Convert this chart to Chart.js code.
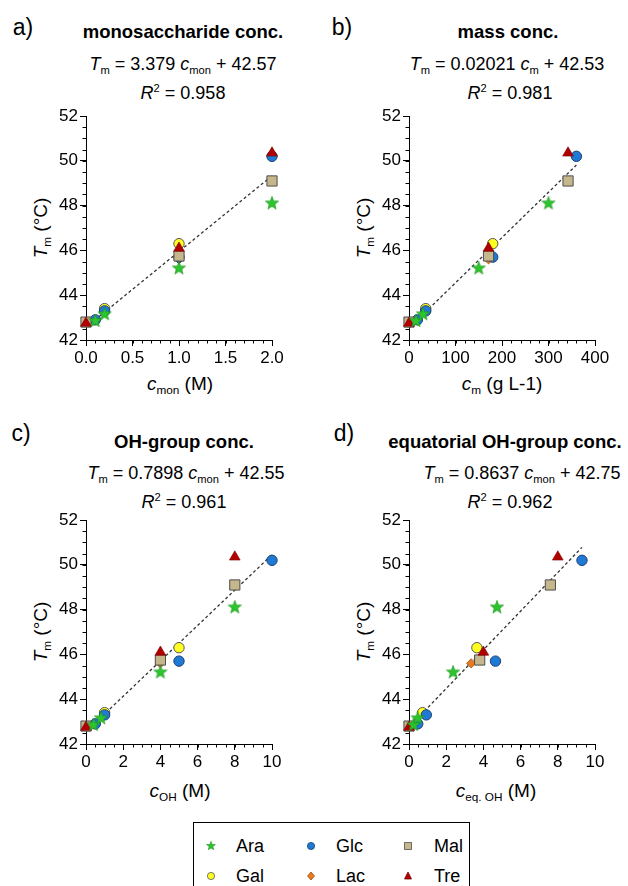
<!DOCTYPE html>
<html>
<head>
<meta charset="utf-8">
<script src="https://cdn.jsdelivr.net/npm/chart.js@4.4.0/dist/chart.umd.min.js"></script>
<style>
  body { margin: 0; width: 628px; height: 886px; background: #fff; position: relative; overflow: hidden;
         font-family: "Liberation Sans", Arial, sans-serif; color: #000; }
  canvas.cv { position: absolute; }
  .t { position: absolute; white-space: nowrap; transform: translate(-50%, -50%); line-height: 1; }
  .lab { font-size: 23px; }
  .ttl { font-size: 18.5px; font-weight: bold; }
  .eq { font-size: 18px; }
  .ax { font-size: 19px; }
  .rot { transform: translate(-50%, -50%) rotate(-90deg); }
  sub { font-size: 62%; vertical-align: -0.35em; line-height: 0; }
  sup { font-size: 62%; vertical-align: 0.6em; line-height: 0; }
  #legend { position: absolute; left: 193px; top: 822px; width: 275px; height: 70px; border: 1.5px solid #000; }
  .li { position: absolute; font-size: 18px; transform: translateY(-50%); line-height: 1; }
  .lm { position: absolute; }
</style>
</head>
<body>

<!-- panel a -->
<div class="t lab" style="left:23px;top:27px">a)</div>
<div class="t ttl" style="left:183px;top:32px">monosaccharide conc.</div>
<div class="t eq" style="left:183px;top:64px"><i>T</i><sub>m</sub> = 3.379 <i>c</i><sub>mon</sub> + 42.57</div>
<div class="t eq" style="left:183px;top:93px"><i>R</i><sup>2</sup> = 0.958</div>
<div class="t ax rot" style="left:40px;top:228px"><i>T</i><sub>m</sub> (°C)</div>
<div class="t ax" style="left:180px;top:383px"><i>c</i><sub>mon</sub> (M)</div>

<!-- panel b -->
<div class="t lab" style="left:342px;top:27px">b)</div>
<div class="t ttl" style="left:508px;top:32px">mass conc.</div>
<div class="t eq" style="left:507px;top:64px"><i>T</i><sub>m</sub> = 0.02021 <i>c</i><sub>m</sub> + 42.53</div>
<div class="t eq" style="left:510px;top:93px"><i>R</i><sup>2</sup> = 0.981</div>
<div class="t ax rot" style="left:363px;top:228px"><i>T</i><sub>m</sub> (°C)</div>
<div class="t ax" style="left:502px;top:383px"><i>c</i><sub>m</sub> (g L-1)</div>

<!-- panel c -->
<div class="t lab" style="left:21px;top:433px">c)</div>
<div class="t ttl" style="left:184px;top:442px">OH-group conc.</div>
<div class="t eq" style="left:186px;top:473px"><i>T</i><sub>m</sub> = 0.7898 <i>c</i><sub>mon</sub> + 42.55</div>
<div class="t eq" style="left:184px;top:502px"><i>R</i><sup>2</sup> = 0.961</div>
<div class="t ax rot" style="left:40px;top:632px"><i>T</i><sub>m</sub> (°C)</div>
<div class="t ax" style="left:180px;top:790px"><i>c</i><sub>OH</sub> (M)</div>

<!-- panel d -->
<div class="t lab" style="left:344px;top:433px">d)</div>
<div class="t ttl" style="left:505px;top:442px">equatorial OH-group conc.</div>
<div class="t eq" style="left:522px;top:473px"><i>T</i><sub>m</sub> = 0.8637 <i>c</i><sub>mon</sub> + 42.75</div>
<div class="t eq" style="left:510px;top:502px"><i>R</i><sup>2</sup> = 0.962</div>
<div class="t ax rot" style="left:363px;top:632px"><i>T</i><sub>m</sub> (°C)</div>
<div class="t ax" style="left:496px;top:790px"><i>c</i><sub>eq. OH</sub> (M)</div>

<canvas class="cv" id="chartA" width="314" height="300" style="left:0;top:100px"></canvas>
<canvas class="cv" id="chartB" width="314" height="300" style="left:314px;top:100px"></canvas>
<canvas class="cv" id="chartC" width="314" height="300" style="left:0;top:504px"></canvas>
<canvas class="cv" id="chartD" width="314" height="300" style="left:314px;top:504px"></canvas>

<div id="legend"></div>

<script>
// ---- data: melting temperature per sugar and the four concentration scales ----
const araTm   = [42.85, 43.15, 45.2, 48.1];
const araMon  = [0.1, 0.2, 1.0, 2.0];
const araMass = [15, 30, 150, 300];
const araOH   = [0.4, 0.8, 4, 8];
const araEq   = [0.24, 0.47, 2.37, 4.73];

const glcTm   = [42.9, 43.3, 45.7, 50.2];
const glcMon  = [0.1, 0.2, 1.0, 2.0];
const glcMass = [18, 36, 180, 360];
const glcOH   = [0.5, 1, 5, 10];
const glcEq   = [0.47, 0.93, 4.65, 9.3];

const galTm   = [43.4, 46.3];
const galMon  = [0.2, 1.0];
const galMass = [36, 180];
const galOH   = [1, 5];
const galEq   = [0.73, 3.65];

const lacTm   = [45.6];
const lacMon  = [1.0];
const lacMass = [171];
const lacOH   = [4];
const lacEq   = [3.34];

const malTm   = [42.8, 45.75, 49.1];
const malMon  = [0, 1.0, 2.0];
const malMass = [0, 171, 342];
const malOH   = [0, 4, 8];
const malEq   = [0, 3.8, 7.6];

const treTm   = [42.75, 46.1, 50.35];
const treMon  = [0, 1.0, 2.0];
const treMass = [0, 171, 342];
const treOH   = [0, 4, 8];
const treEq   = [0, 4.0, 8.0];

// linear fits (end points of the dashed lines)
const fitX = [[0, 2], [0, 360], [0, 10], [0, 9.3]];
const fitY = [[42.57, 49.33], [42.53, 49.81], [42.55, 50.45], [42.75, 50.78]];

// axis ranges / ticks
const xMax   = [2, 400, 10, 10];
const xStep  = [0.5, 100, 2, 2];
const xMinor = [0.1, 20, 0.5, 0.5];
const xDigits = [1, 0, 0, 0];
const yMin = 42, yMax = 52, yStep = 2, yMinor = 0.5;

const legendNames = ['Ara', 'Glc', 'Mal', 'Gal', 'Lac', 'Tre'];

const FONT = '"Liberation Sans", Arial, sans-serif';

// filled five-point star used for Ara
function makeStar(size, outer, inner) {
    const c = document.createElement('canvas');
    c.width = size; c.height = size;
    const g = c.getContext('2d');
    const cx = size / 2, cy = size / 2;
    g.beginPath();
    for (let i = 0; i < 10; i++) {
        const r = i % 2 === 0 ? outer : inner;
        const a = -Math.PI / 2 + i * Math.PI / 5;
        g.lineTo(cx + r * Math.cos(a), cy + r * Math.sin(a));
    }
    g.closePath();
    g.fillStyle = '#2cc52c';
    g.fill();
    g.strokeStyle = '#1c8f1c';
    g.lineWidth = 0.6;
    g.stroke();
    return c;
}
const starImg = makeStar(16, 7, 2.9);

const styles = {
    Ara: { pointStyle: starImg, radius: 7, bg: '#2cc52c', border: '#1c8f1c', bw: 0 },
    Tre: { pointStyle: 'triangle', radius: 6.2, bg: '#b00000', border: '#800000', bw: 0.6 },
    Mal: { pointStyle: 'rect', radius: 7.2, bg: '#c5b68c', border: '#4d4d4d', bw: 1 },
    Glc: { pointStyle: 'circle', radius: 5.2, bg: '#1f7ad6', border: '#1b3f73', bw: 1 },
    Lac: { pointStyle: 'rectRot', radius: 4.6, bg: '#ea7a1f', border: '#a04e12', bw: 0.8 },
    Gal: { pointStyle: 'circle', radius: 5.2, bg: '#ffff22', border: '#555555', bw: 1 }
};

function pts(xs, ys) {
    return xs.map((x, i) => ({ x: x, y: ys[i] }));
}

function sugarSet(name, xs, ys) {
    const s = styles[name];
    return {
        type: 'scatter',
        label: name,
        data: pts(xs, ys),
        clip: false,
        pointStyle: s.pointStyle,
        pointRadius: s.radius,
        pointBackgroundColor: s.bg,
        pointBorderColor: s.border,
        pointBorderWidth: s.bw,
        pointHoverRadius: s.radius
    };
}

// draws the short unlabeled ticks between the major ones
const minorTicks = {
    id: 'minorTicks',
    beforeDatasetsDraw(chart, args, opts) {
        const ctx = chart.ctx;
        const xs = chart.scales.x, ys = chart.scales.y;
        ctx.save();
        ctx.strokeStyle = '#000';
        ctx.lineWidth = 1;
        ctx.beginPath();
        let n = Math.round((xs.max - xs.min) / opts.x);
        for (let i = 0; i <= n; i++) {
            const px = Math.round(xs.getPixelForValue(xs.min + i * opts.x)) + 0.5;
            ctx.moveTo(px, ys.bottom);
            ctx.lineTo(px, ys.bottom + 3.5);
        }
        n = Math.round((ys.max - ys.min) / opts.y);
        for (let i = 0; i <= n; i++) {
            const py = Math.round(ys.getPixelForValue(ys.min + i * opts.y)) + 0.5;
            ctx.moveTo(xs.left, py);
            ctx.lineTo(xs.left - 3.5, py);
        }
        ctx.stroke();
        ctx.restore();
    }
};

function makeChart(id, k, sets, padLeft, padRight) {
    const datasets = sets.slice();
    datasets.push({
        type: 'line',
        label: 'fit',
        data: pts(fitX[k], fitY[k]),
        borderColor: '#333',
        borderWidth: 1.3,
        borderDash: [3, 2.5],
        pointRadius: 0,
        fill: false
    });
    const tickFont = { family: FONT, size: 17 };
    return new Chart(document.getElementById(id), {
        data: { datasets: datasets },
        options: {
            responsive: false,
            animation: false,
            events: [],
            layout: { padding: { left: padLeft, right: padRight, top: 16, bottom: 30 } },
            plugins: {
                legend: { display: false },
                tooltip: { enabled: false },
                minorTicks: { x: xMinor[k], y: yMinor }
            },
            scales: {
                x: {
                    type: 'linear',
                    min: 0,
                    max: xMax[k],
                    afterFit(scale) { scale.height = 30; },
                    border: { display: true, color: '#000', width: 1 },
                    grid: { drawOnChartArea: false, drawTicks: true, tickLength: 6, tickColor: '#000', tickWidth: 1 },
                    ticks: {
                        stepSize: xStep[k],
                        color: '#000',
                        font: tickFont,
                        padding: 2,
                        maxRotation: 0,
                        callback: v => v.toFixed(xDigits[k])
                    }
                },
                y: {
                    type: 'linear',
                    min: yMin,
                    max: yMax,
                    afterFit(scale) { scale.width = 40; },
                    border: { display: true, color: '#000', width: 1 },
                    grid: { drawOnChartArea: false, drawTicks: true, tickLength: 6, tickColor: '#000', tickWidth: 1 },
                    ticks: {
                        stepSize: yStep,
                        color: '#000',
                        font: tickFont,
                        padding: 2
                    }
                }
            }
        },
        plugins: [minorTicks]
    });
}

// front-most first
makeChart('chartA', 0, [
    sugarSet('Ara', araMon, araTm), sugarSet('Tre', treMon, treTm), sugarSet('Mal', malMon, malTm),
    sugarSet('Glc', glcMon, glcTm), sugarSet('Lac', lacMon, lacTm), sugarSet('Gal', galMon, galTm)
], 46, 42);
makeChart('chartB', 1, [
    sugarSet('Ara', araMass, araTm), sugarSet('Tre', treMass, treTm), sugarSet('Mal', malMass, malTm),
    sugarSet('Glc', glcMass, glcTm), sugarSet('Lac', lacMass, lacTm), sugarSet('Gal', galMass, galTm)
], 55, 33);
makeChart('chartC', 2, [
    sugarSet('Ara', araOH, araTm), sugarSet('Tre', treOH, treTm), sugarSet('Mal', malOH, malTm),
    sugarSet('Glc', glcOH, glcTm), sugarSet('Lac', lacOH, lacTm), sugarSet('Gal', galOH, galTm)
], 46, 42);
makeChart('chartD', 3, [
    sugarSet('Ara', araEq, araTm), sugarSet('Tre', treEq, treTm), sugarSet('Mal', malEq, malTm),
    sugarSet('Glc', glcEq, glcTm), sugarSet('Lac', lacEq, lacTm), sugarSet('Gal', galEq, galTm)
], 55, 33);

// ---- legend box (3 columns x 2 rows) ----
function legendMarker(name) {
    const c = document.createElement('canvas');
    c.width = 14; c.height = 14;
    const g = c.getContext('2d');
    const s = styles[name];
    g.fillStyle = s.bg;
    g.strokeStyle = s.border;
    g.lineWidth = 0.8;
    g.beginPath();
    if (name === 'Ara') {
        g.drawImage(makeStar(14, 4.6, 1.9), 0, 0);
        return c;
    } else if (s.pointStyle === 'circle') {
        g.arc(7, 7, 3.6, 0, Math.PI * 2);
    } else if (s.pointStyle === 'rect') {
        g.rect(3.5, 3.5, 7, 7);
    } else if (s.pointStyle === 'triangle') {
        g.moveTo(7, 3); g.lineTo(10.5, 10); g.lineTo(3.5, 10); g.closePath();
    } else if (s.pointStyle === 'rectRot') {
        g.moveTo(7, 3); g.lineTo(10.5, 7); g.lineTo(7, 11); g.lineTo(3.5, 7); g.closePath();
    }
    g.fill();
    g.stroke();
    return c;
}

const legend = document.getElementById('legend');
const colMarker = [17, 117, 214];
const colText = [42, 142, 240];
const rowY = [23, 53];
legendNames.forEach((name, i) => {
    const col = i % 3, row = Math.floor(i / 3);
    const m = legendMarker(name);
    m.className = 'lm';
    m.style.left = (colMarker[col] - 7) + 'px';
    m.style.top = (rowY[row] - 7) + 'px';
    legend.appendChild(m);
    const t = document.createElement('div');
    t.className = 'li';
    t.style.left = colText[col] + 'px';
    t.style.top = rowY[row] + 'px';
    t.textContent = name;
    legend.appendChild(t);
});
</script>
</body>
</html>
